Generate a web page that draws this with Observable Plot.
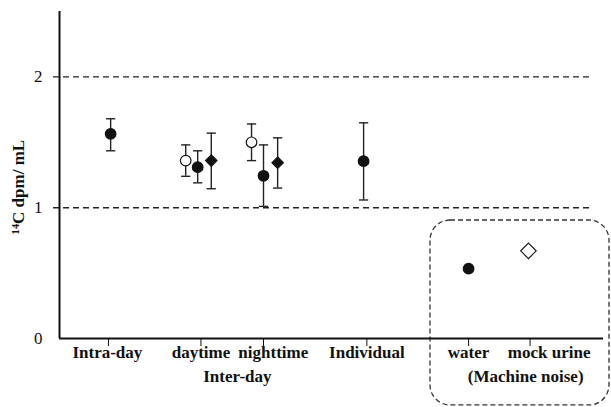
<!DOCTYPE html>
<html>
<head>
<meta charset="utf-8">
<script src="https://cdn.jsdelivr.net/npm/d3@7"></script>
<script src="https://cdn.jsdelivr.net/npm/@observablehq/plot@0.6"></script>
<style>
  html, body { margin: 0; padding: 0; background: #fff; }
  #chart { width: 611px; height: 407px; }
</style>
</head>
<body>
<div id="chart"></div>
<script>
// ---- data ----
const categories = ["Intra-day", "daytime", "nighttime", "Individual", "water", "mock urine"];
const tickPos    = [0.9, 2.6, 3.75, 5.65, 7.52, 8.65];
const labelPos   = [0.88, 2.6, 3.93, 5.65, 7.52, 9.0];
const groupNames = ["Inter-day", "(Machine noise)"];
const groupPos   = [3.27, 8.57];

const ptX    = [0.94, 2.32, 2.54, 2.79, 3.53, 3.75, 4.01, 5.59, 7.52, 8.62];
const ptY    = [1.565, 1.36, 1.31, 1.36, 1.50, 1.244, 1.344, 1.356, 0.534, 0.67];
const errLo  = [1.435, 1.24, 1.19, 1.145, 1.36, 1.01, 1.15, 1.059, null, null];
const errHi  = [1.68, 1.48, 1.435, 1.57, 1.64, 1.48, 1.534, 1.649, null, null];
const shape  = ["circle", "circle", "circle", "diamond", "circle", "circle", "diamond", "circle", "circle", "diamond"];
const fillK  = ["filled", "open", "filled", "filled", "open", "filled", "filled", "filled", "filled", "open"];

const yTicks = [0, 1, 2];
const refLines = [1, 2];
const noiseBox = [{x1: 6.82, x2: 10.11, y1: -0.512, y2: 0.902}];
const yLabel = "¹⁴C dpm/ mL";

// ---- build table ----
const pts = ptX.map((x, i) => ({x, y: ptY[i], lo: errLo[i], hi: errHi[i], shape: shape[i], fill: fillK[i]}));
const errs = pts.filter(d => d.lo != null);
const cats = categories.map((c, i) => ({c, x: labelPos[i]}));
const groups = groupNames.map((g, i) => ({g, x: groupPos[i]}));

const capSymbol = {
  draw(ctx, size) { const w = Math.sqrt(size); ctx.moveTo(-w, 0); ctx.lineTo(w, 0); }
};

const chart = Plot.plot({
  width: 611,
  height: 407,
  marginLeft: 59,
  marginRight: 8,
  marginTop: 11,
  marginBottom: 69,
  style: {fontFamily: "'Liberation Serif', 'Times New Roman', serif", fontSize: "17px", color: "#111", background: "#fff"},
  x: {domain: [0, 10], ticks: tickPos, tickFormat: () => "", tickSize: 8, label: null},
  y: {domain: [0, 2.5], ticks: yTicks, tickFormat: d => String(d), tickSize: 0, tickPadding: 17, label: null},
  marks: [
    Plot.ruleY(refLines, {x1: -0.11, x2: 9.76, stroke: "#222", strokeWidth: 1.4, strokeDasharray: "6,4"}),
    Plot.rect(noiseBox, {x1: "x1", x2: "x2", y1: "y1", y2: "y2", rx: 20, fill: "none", stroke: "#333", strokeWidth: 1.3, strokeDasharray: "5,3"}),
    Plot.ruleX(errs, {x: "x", y1: "lo", y2: "hi", stroke: "#222", strokeWidth: 1.4}),
    Plot.dot(errs, {x: "x", y: "lo", symbol: capSymbol, r: 2.6, stroke: "#222", strokeWidth: 1.4, fill: "none"}),
    Plot.dot(errs, {x: "x", y: "hi", symbol: capSymbol, r: 2.6, stroke: "#222", strokeWidth: 1.4, fill: "none"}),
    Plot.dot(pts.filter(d => d.shape === "circle"), {
      x: "x", y: "y", r: 5.3, symbol: "circle",
      fill: d => d.fill === "filled" ? "#111" : "#fff", stroke: "#111", strokeWidth: 1.2
    }),
    Plot.dot(pts.filter(d => d.shape === "diamond" && d.fill === "filled"), {
      x: "x", y: "y", symbol: "diamond2", r: 5.2,
      fill: "#111", stroke: "#111", strokeWidth: 1.1
    }),
    Plot.dot(pts.filter(d => d.shape === "diamond" && d.fill === "open"), {
      x: "x", y: "y", symbol: "diamond2", r: 7,
      fill: "#fff", stroke: "#111", strokeWidth: 1.1
    }),
    Plot.ruleX([0], {stroke: "#111", strokeWidth: 2}),
    Plot.ruleY([0], {stroke: "#111", strokeWidth: 2}),
    Plot.text(cats, {x: "x", text: "c", frameAnchor: "bottom", dy: 19, fontWeight: "bold", fontSize: 17, fill: "#111"}),
    Plot.text(groups, {x: "x", text: "g", frameAnchor: "bottom", dy: 43, fontWeight: "bold", fontSize: 17, fill: "#111"}),
    Plot.text([yLabel], {text: d => d, frameAnchor: "left", textAnchor: "middle", dx: -41, dy: 12, rotate: -90, fontWeight: "bold", fontSize: 17, fill: "#111"})
  ]
});
document.getElementById("chart").appendChild(chart);
</script>
</body>
</html>
